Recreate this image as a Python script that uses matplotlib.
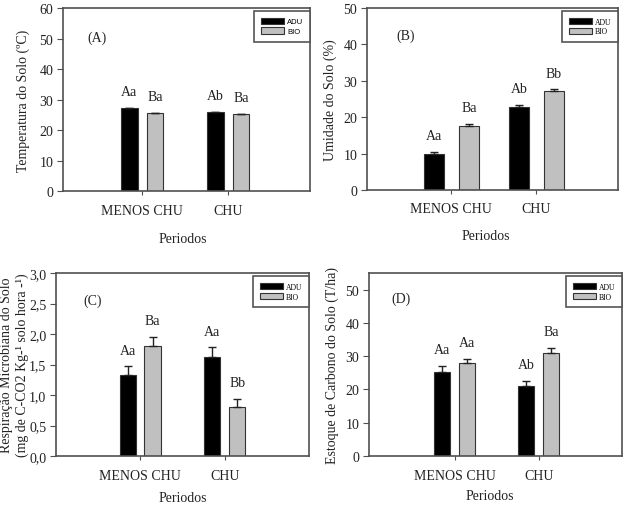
import matplotlib
matplotlib.use('Agg')
import matplotlib.pyplot as plt
import numpy as np

plt.rcParams['font.family'] = 'Liberation Serif'
plt.rcParams['font.size'] = 10
plt.rcParams['mathtext.fontset'] = 'stix'

# data
periodos = ['MENOS CHU', 'CHU']
series = ['ADU', 'BIO']

temp_adu = [27.2, 25.8]
temp_bio = [25.5, 25.1]
temp_adu_err = [0.0, 0.1]
temp_bio_err = [0.1, 0.3]
temp_letras_adu = ['Aa', 'Ab']
temp_letras_bio = ['Ba', 'Ba']

umid_adu = [10.0, 22.7]
umid_bio = [17.7, 27.2]
umid_adu_err = [0.45, 0.6]
umid_bio_err = [0.45, 0.45]
umid_letras_adu = ['Aa', 'Ab']
umid_letras_bio = ['Ba', 'Bb']

resp_adu = [1.33, 1.63]
resp_bio = [1.81, 0.80]
resp_adu_err = [0.14, 0.15]
resp_bio_err = [0.14, 0.14]
resp_letras_adu = ['Aa', 'Aa']
resp_letras_bio = ['Ba', 'Bb']

carb_adu = [25.4, 21.0]
carb_bio = [28.1, 30.9]
carb_adu_err = [1.6, 1.6]
carb_bio_err = [1.2, 1.6]
carb_letras_adu = ['Aa', 'Ab']
carb_letras_bio = ['Aa', 'Ba']

fig = plt.figure(figsize=(6.26, 5.10), dpi=100)

paineis = [
    dict(rect=[0.1006, 0.6235, 0.3946, 0.3588], xlim=(-0.92, 1.95), ylim=(0, 60),
         yt=np.arange(0, 61, 10), w=0.19, off=0.148,
         ylab='Temperatura do Solo (ºC)', ylx=-0.134, xlp=(0.486, -0.225),
         tag='(A)', tagpos=(0.10, 0.82),
         adu=temp_adu, bio=temp_bio, ea=temp_adu_err, eb=temp_bio_err,
         la=temp_letras_adu, lb=temp_letras_bio, legfont='Liberation Sans', dec=False),
    dict(rect=[0.5863, 0.6255, 0.401, 0.357], xlim=(-0.99, 1.96), ylim=(0, 50),
         yt=np.arange(0, 51, 10), w=0.235, off=0.206,
         ylab='Umidade do Solo (%)', ylx=-0.12, xlp=(0.474, -0.214),
         tag='(B)', tagpos=(0.115, 0.83),
         adu=umid_adu, bio=umid_bio, ea=umid_adu_err, eb=umid_bio_err,
         la=umid_letras_adu, lb=umid_letras_bio, legfont='Liberation Serif', dec=False),
    dict(rect=[0.0895, 0.1039, 0.404, 0.3588], xlim=(-0.99, 1.99), ylim=(0, 3.0),
         yt=np.arange(0, 3.01, 0.5), w=0.19, off=0.147,
         ylab='Respiração Microbiana do Solo\n(mg de C-CO2 Kg-¹ solo hora -¹)', ylx=-0.107,
         xlp=(0.502, -0.191), tag='(C)', tagpos=(0.107, 0.83),
         adu=resp_adu, bio=resp_bio, ea=resp_adu_err, eb=resp_bio_err,
         la=resp_letras_adu, lb=resp_letras_bio, legfont='Liberation Serif', dec=True),
    dict(rect=[0.5895, 0.1039, 0.404, 0.3588], xlim=(-1.02, 1.99), ylim=(0, 55),
         yt=np.arange(0, 51, 10), w=0.19, off=0.149,
         ylab='Estoque de Carbono do Solo (T/ha)', ylx=-0.119, xlp=(0.478, -0.18),
         tag='(D)', tagpos=(0.09, 0.845),
         adu=carb_adu, bio=carb_bio, ea=carb_adu_err, eb=carb_bio_err,
         la=carb_letras_adu, lb=carb_letras_bio, legfont='Liberation Serif', dec=False),
]

cor_spine = '#505050'
cor_txt = '#222222'

for p in paineis:
    ax = fig.add_axes(p['rect'])
    x = np.arange(len(periodos))
    adu = np.array(p['adu'])
    bio = np.array(p['bio'])
    ea = np.array(p['ea'])
    eb = np.array(p['eb'])
    ax.bar(x - p['off'], adu, p['w'], color='black', edgecolor='#333333', linewidth=0.8,
           yerr=[np.zeros_like(ea), ea], capsize=3,
           error_kw=dict(elinewidth=1, capthick=1, ecolor='#222222'), label='ADU', zorder=2)
    ax.bar(x + p['off'], bio, p['w'], color='#c0c0c0', edgecolor='#333333', linewidth=0.8,
           yerr=[np.zeros_like(eb), eb], capsize=3,
           error_kw=dict(elinewidth=1, capthick=1, ecolor='#222222'), label='BIO', zorder=2)
    for i in range(len(periodos)):
        ax.annotate(p['la'][i], (x[i] - p['off'], adu[i] + ea[i]), xytext=(0, 7),
                    textcoords='offset points', ha='center', va='bottom', color=cor_txt)
        ax.annotate(p['lb'][i], (x[i] + p['off'], bio[i] + eb[i]), xytext=(0, 7),
                    textcoords='offset points', ha='center', va='bottom', color=cor_txt)
    ax.set_xlim(p['xlim'])
    ax.set_ylim(p['ylim'])
    ax.set_yticks(p['yt'])
    if p['dec']:
        ax.set_yticklabels(['{:.1f}'.format(v).replace('.', ',') for v in p['yt']])
    ax.set_xticks(x)
    ax.set_xticklabels(periodos)
    ax.tick_params(axis='x', length=3, pad=6, colors=cor_spine, labelcolor=cor_txt)
    ax.tick_params(axis='y', length=4, pad=3, colors=cor_spine, labelcolor=cor_txt)
    for s in ax.spines.values():
        s.set_color(cor_spine)
        s.set_linewidth(1.2)
    ax.set_ylabel(p['ylab'], color=cor_txt, linespacing=1.25)
    ax.yaxis.set_label_coords(p['ylx'], 0.5)
    ax.set_xlabel('Periodos', color=cor_txt)
    ax.xaxis.set_label_coords(*p['xlp'])
    ax.text(p['tagpos'][0], p['tagpos'][1], p['tag'], transform=ax.transAxes, color=cor_txt)
    leg = ax.legend(loc='upper right', bbox_to_anchor=(1.0, 0.985), fancybox=False,
                    framealpha=1, edgecolor='#555555', borderaxespad=0.0,
                    prop=dict(family=p['legfont'], size=5.5), handlelength=3.0,
                    handleheight=0.9, borderpad=0.9, labelspacing=0.25, handletextpad=0.4)
    leg.get_frame().set_linewidth(1.2)

plt.savefig('out.png', dpi=100)
